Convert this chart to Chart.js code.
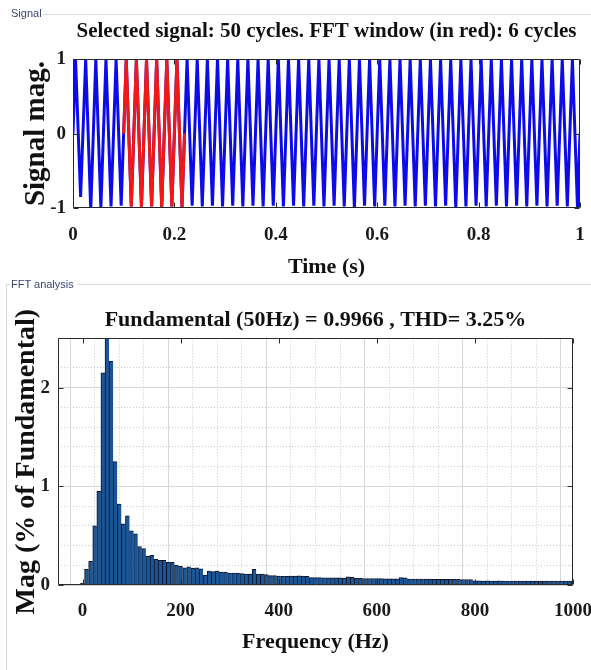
<!DOCTYPE html>
<html>
<head>
<meta charset="utf-8">
<title>Signal and FFT analysis</title>
<script src="https://cdn.jsdelivr.net/npm/chart.js@4.4.1/dist/chart.umd.min.js"></script>
<style>
  html, body { margin: 0; padding: 0; background: #fff; }
  body { position: relative; width: 591px; height: 670px; overflow: hidden; }
  .panelLabel { position: absolute; font: 11px "Liberation Sans", Arial, sans-serif; color: #3a4570; line-height: 13px; white-space: nowrap; }
  .rule { position: absolute; background: #dadada; }
  #signalPanel { position: absolute; left: 0; top: 0; width: 591px; height: 277px; overflow: hidden; }
  #fftPanel { position: absolute; left: 0; top: 286px; width: 591px; height: 384px; overflow: hidden; }
  canvas { display: block; }
</style>
</head>
<body>
<div id="signalPanel"><canvas id="signalChart" width="591" height="290"></canvas></div>
<div id="fftPanel"><canvas id="fftChart" width="591" height="384"></canvas></div>
<div class="rule" style="left:43px;top:14px;width:548px;height:1px"></div>
<div class="panelLabel" style="left:11px;top:7px">Signal</div>
<div class="rule" style="left:6px;top:284px;width:4px;height:1px"></div>
<div class="rule" style="left:77px;top:284px;width:514px;height:1px"></div>
<div class="rule" style="left:6px;top:284px;width:1px;height:386px"></div>
<div class="panelLabel" style="left:11px;top:278px">FFT analysis</div>
<script>
// signal samples: peaks and troughs (time in s)
const sigTime = [0,
  0.005,0.015,0.025,0.035,0.045,0.055,0.065,0.075,0.085,0.095,
  0.105,0.115,0.125,0.135,0.145,0.155,0.165,0.175,0.185,0.195,
  0.205,0.215,0.225,0.235,0.245,0.255,0.265,0.275,0.285,0.295,
  0.305,0.315,0.325,0.335,0.345,0.355,0.365,0.375,0.385,0.395,
  0.405,0.415,0.425,0.435,0.445,0.455,0.465,0.475,0.485,0.495,
  0.505,0.515,0.525,0.535,0.545,0.555,0.565,0.575,0.585,0.595,
  0.605,0.615,0.625,0.635,0.645,0.655,0.665,0.675,0.685,0.695,
  0.705,0.715,0.725,0.735,0.745,0.755,0.765,0.775,0.785,0.795,
  0.805,0.815,0.825,0.835,0.845,0.855,0.865,0.875,0.885,0.895,
  0.905,0.915,0.925,0.935,0.945,0.955,0.965,0.975,0.985,0.995,
  1];
const sigMag = [0,
  1,-0.85,1,-1.03,1,-1,1,-0.98,1,-0.97,
  1,-0.98,1,-0.99,1,-0.98,1,-0.99,1,-0.98,
  1,-0.99,1,-0.97,1,-0.98,1,-0.97,1,-0.98,
  1,-0.97,1,-0.98,1,-0.97,1,-0.98,1,-0.97,
  1,-0.98,1,-0.97,1,-0.98,1,-0.97,1,-0.98,
  1,-0.97,1,-0.98,1,-1,1,-0.97,1,-0.98,
  1,-0.97,1,-0.98,1,-0.97,1,-0.98,1,-0.97,
  1,-0.98,1,-0.97,1,-1,1,-0.98,1,-0.97,
  1,-0.98,1,-0.97,1,-0.98,1,-0.97,1,-0.98,
  1,-0.97,1,-0.98,1,-0.97,1,-0.98,1,-0.99,
  0];

// FFT window (6 cycles, drawn in red)
const winTime = [0.1,0.105,0.115,0.125,0.135,0.145,0.155,0.165,0.175,0.185,0.195,0.205,0.215,0.22];
const winMag = [0,1,-0.98,1,-0.99,1,-0.98,1,-0.99,1,-0.98,1,-0.99,0];

// FFT bins (Hz) and magnitude (% of fundamental)
const fftFreq = [
  0,8.33,16.67,25,33.33,41.67,50,58.33,66.67,75,83.33,91.67,
  100,108.33,116.67,125,133.33,141.67,150,158.33,166.67,175,183.33,191.67,
  200,208.33,216.67,225,233.33,241.67,250,258.33,266.67,275,283.33,291.67,
  300,308.33,316.67,325,333.33,341.67,350,358.33,366.67,375,383.33,391.67,
  400,408.33,416.67,425,433.33,441.67,450,458.33,466.67,475,483.33,491.67,
  500,508.33,516.67,525,533.33,541.67,550,558.33,566.67,575,583.33,591.67,
  600,608.33,616.67,625,633.33,641.67,650,658.33,666.67,675,683.33,691.67,
  700,708.33,716.67,725,733.33,741.67,750,758.33,766.67,775,783.33,791.67,
  800,808.33,816.67,825,833.33,841.67,850,858.33,866.67,875,883.33,891.67,
  900,908.33,916.67,925,933.33,941.67,950,958.33,966.67,975,983.33,991.67,
  1000];
const fftMag = [
  0.02,0.16,0.24,0.6,0.95,2.15,2.55,2.27,1.25,0.82,0.62,0.7,
  0.55,0.52,0.39,0.37,0.29,0.3,0.26,0.25,0.25,0.23,0.23,0.2,
  0.19,0.175,0.185,0.17,0.175,0.165,0.1,0.14,0.135,0.14,0.13,0.13,
  0.12,0.12,0.12,0.115,0.11,0.11,0.16,0.11,0.11,0.105,0.095,0.095,
  0.09,0.088,0.088,0.09,0.09,0.092,0.09,0.088,0.075,0.074,0.074,0.073,
  0.073,0.072,0.072,0.072,0.071,0.082,0.078,0.067,0.067,0.066,0.066,0.066,
  0.065,0.065,0.063,0.062,0.062,0.063,0.074,0.072,0.06,0.06,0.06,0.059,
  0.059,0.059,0.058,0.058,0.058,0.058,0.057,0.057,0.057,0.056,0.056,0.056,
  0.042,0.042,0.041,0.042,0.041,0.041,0.042,0.041,0.041,0.04,0.041,0.041,
  0.04,0.041,0.04,0.04,0.041,0.04,0.04,0.04,0.041,0.04,0.04,0.04,
  0.04];

// labelled ticks
const timeTicks = [0, 0.2, 0.4, 0.6, 0.8, 1];
const magTicks = [-1, 0, 1];
const freqTicks = [0, 200, 400, 600, 800, 1000];
const fftTicks = [0, 1, 2];

Chart.defaults.font.family = '"Liberation Serif", "Times New Roman", serif';
Chart.defaults.font.weight = 'bold';
Chart.defaults.color = '#1a1a1a';

const toXY = (xs, ys) => xs.map((x, i) => ({ x: x, y: ys[i] }));

// keep end labels from pushing the plot area in
const fixHeight = h => s => { s.height = h; s.paddingLeft = 0; s.paddingRight = 0; };

// matlab style box round the axes with inward ticks
const boxTicks = {
  id: 'boxTicks',
  afterDraw(chart, args, opts) {
    const { ctx, chartArea: a, scales } = chart;
    const L = Math.round(a.left) + 0.5, R = Math.round(a.right) - 0.5;
    const T = Math.round(a.top) + 0.5, B = Math.round(a.bottom) - 0.5;
    ctx.save();
    ctx.strokeStyle = opts.color;
    ctx.lineWidth = 1;
    ctx.beginPath();
    ctx.rect(L, T, R - L, B - T);
    opts.xTicks.forEach(v => {
      const p = Math.round(scales.x.getPixelForValue(v)) + 0.5;
      ctx.moveTo(p, B); ctx.lineTo(p, B - opts.len);
      ctx.moveTo(p, T); ctx.lineTo(p, T + opts.len);
    });
    opts.yTicks.forEach(v => {
      const p = Math.round(scales.y.getPixelForValue(v)) + 0.5;
      ctx.moveTo(L, p); ctx.lineTo(L + opts.len, p);
      ctx.moveTo(R, p); ctx.lineTo(R - opts.len, p);
    });
    ctx.stroke();
    ctx.restore();
  }
};

// rotated y label that may be longer than the axis
const sideTitle = {
  id: 'sideTitle',
  afterDraw(chart, args, opts) {
    if (!opts.text) return;
    const { ctx, chartArea: a } = chart;
    ctx.save();
    ctx.font = opts.font;
    ctx.fillStyle = opts.color;
    ctx.textAlign = 'center';
    ctx.textBaseline = 'middle';
    ctx.translate(opts.x, (a.top + a.bottom) / 2);
    ctx.rotate(-Math.PI / 2);
    ctx.fillText(opts.text, 0, 0);
    ctx.restore();
  }
};

new Chart(document.getElementById('signalChart'), {
  type: 'line',
  data: {
    datasets: [
      { data: toXY(winTime, winMag), borderColor: '#f21818', borderWidth: 3 },
      { data: toXY(sigTime, sigMag), borderColor: '#0c0ce8', borderWidth: 3 }
    ]
  },
  options: {
    responsive: false,
    animation: false,
    events: [],
    layout: { padding: { left: 0, right: 11, top: 0, bottom: 0 } },
    elements: { point: { radius: 0 }, line: { tension: 0, fill: false } },
    plugins: {
      legend: { display: false },
      tooltip: { enabled: false },
      title: {
        display: true, fullSize: false, color: '#111',
        text: 'Selected signal: 50 cycles. FFT window (in red): 6 cycles',
        font: { size: 21 }, padding: { top: 19, bottom: 15 }
      },
      boxTicks: { xTicks: timeTicks, yTicks: magTicks, len: 5, color: '#262626' }
    },
    scales: {
      x: {
        type: 'linear', min: 0, max: 1,
        grid: { display: false, drawTicks: false },
        border: { display: false },
        afterBuildTicks: s => { s.ticks = timeTicks.map(v => ({ value: v })); },
        afterFit: fixHeight(82),
        ticks: { font: { size: 19 }, padding: 16, maxRotation: 0, autoSkip: false, callback: v => String(v) },
        title: { display: true, text: 'Time (s)', color: '#111', font: { size: 22 }, padding: { top: 0, bottom: 9 } }
      },
      y: {
        type: 'linear', min: -1, max: 1,
        grid: { display: false, drawTicks: false },
        border: { display: false },
        afterBuildTicks: s => { s.ticks = magTicks.map(v => ({ value: v })); },
        afterFit: s => { s.width = 73; },
        ticks: { font: { size: 19 }, padding: 7, callback: v => String(v) },
        title: { display: true, text: 'Signal mag.', color: '#111', font: { size: 29 }, padding: { top: 19, bottom: 0 } }
      }
    }
  },
  plugins: [boxTicks]
});

const isMajorFreq = c => c.tick && freqTicks.includes(c.tick.value);
const isMajorMag = c => c.tick && fftTicks.includes(c.tick.value);

new Chart(document.getElementById('fftChart'), {
  type: 'bar',
  data: {
    datasets: [{
      data: toXY(fftFreq, fftMag),
      backgroundColor: '#1c5596',
      borderColor: '#0a1628',
      borderWidth: { top: 1, left: 1, right: 0, bottom: 0 },
      borderSkipped: 'start',
      barPercentage: 1,
      categoryPercentage: 1
    }]
  },
  options: {
    responsive: false,
    animation: false,
    events: [],
    layout: { padding: { left: 0, right: 18, top: 0, bottom: 0 } },
    plugins: {
      legend: { display: false },
      tooltip: { enabled: false },
      title: {
        display: true, fullSize: false, color: '#111',
        text: 'Fundamental (50Hz) = 0.9966 , THD= 3.25%',
        font: { size: 22 }, padding: { top: 21, bottom: 5 }
      },
      boxTicks: { xTicks: freqTicks, yTicks: fftTicks, len: 5, color: '#2a2a2a' },
      sideTitle: { text: 'Mag (% of Fundamental)', x: 27, color: '#111', font: 'bold 28px "Liberation Serif", "Times New Roman", serif' }
    },
    scales: {
      x: {
        type: 'linear', min: -50, max: 1000, offset: false,
        grid: {
          drawTicks: false, lineWidth: 1,
          color: c => isMajorFreq(c) ? '#d6d6d6' : '#c9c9c9'
        },
        border: { display: false, dash: c => (c.tick && !isMajorFreq(c)) ? [1, 2] : [] },
        afterFit: fixHeight(85),
        ticks: {
          stepSize: 50, autoSkip: false, maxRotation: 0, padding: 15, font: { size: 19 },
          callback: v => freqTicks.includes(v) ? String(v) : ''
        },
        title: { display: true, text: 'Frequency (Hz)', color: '#111', font: { size: 22 }, padding: { top: 0, bottom: 14 } }
      },
      y: {
        type: 'linear', min: 0, max: 2.5,
        grid: {
          drawTicks: false, lineWidth: 1,
          color: c => isMajorMag(c) ? '#d6d6d6' : '#c9c9c9'
        },
        border: { display: false, dash: c => (c.tick && !isMajorMag(c)) ? [1, 2] : [] },
        afterFit: s => { s.width = 58; },
        ticks: {
          stepSize: 0.2, autoSkip: false, padding: 8, font: { size: 19 },
          callback: v => fftTicks.includes(v) ? String(v) : ''
        }
      }
    }
  },
  plugins: [boxTicks, sideTitle]
});
</script>
</body>
</html>
